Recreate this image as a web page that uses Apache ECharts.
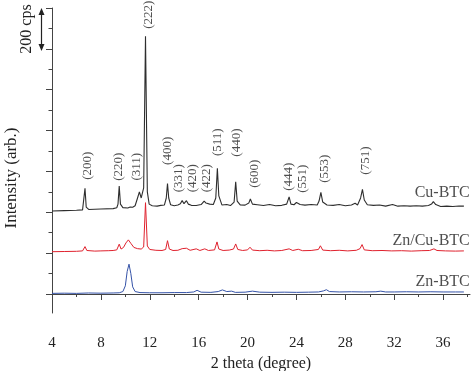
<!DOCTYPE html>
<html>
<head>
<meta charset="utf-8">
<script src="https://cdn.jsdelivr.net/npm/echarts@6/dist/echarts.min.js"></script>
<style>
html,body{margin:0;padding:0;background:#fff;}
#c{width:474px;height:371px;}
</style>
</head>
<body>
<div id="c"></div>
<script>
// x tick labels (2 theta, degree)
var xMajorTicks = [4, 8, 12, 16, 20, 24, 28, 32, 36];
var xMinorTicks = [6, 10, 14, 18, 22, 26, 30, 34, 38];
// y ticks (cps, offset scale)
var yMajorTicks = [0, 200, 400, 600, 800, 1000, 1200, 1400];
var yMinorTicks = [100, 300, 500, 700, 900, 1100, 1300];

// Cu-BTC pattern [2theta, counts (offset)]
var cuBTC = [
[4,406],[5,408],[6,410],[6.5,412],[6.6,420],[6.7,517],[6.8,425],[7.0,414],[8,416],[9,418],
[9.3,422],[9.4,440],[9.5,528],[9.6,440],[9.8,423],[10.2,421],[10.4,426],[10.5,428],[10.6,425],[10.8,432],
[11.0,470],[11.15,500],[11.3,470],[11.5,520],[11.65,1262],[11.8,500],[11.95,440],[12.2,432],[12.6,430],[12.9,434],
[13.2,436],[13.35,470],[13.45,541],[13.55,470],[13.7,437],[14.0,432],[14.3,436],[14.5,442],[14.65,457],[14.8,442],
[15.0,457],[15.15,440],[15.4,434],[15.8,433],[16.2,438],[16.45,455],[16.6,445],[16.9,440],[17.2,438],[17.4,470],
[17.53,615],[17.65,480],[17.9,436],[18.3,438],[18.6,433],[18.9,450],[19.03,549],[19.15,455],[19.4,436],[19.8,435],
[20.1,445],[20.23,465],[20.4,440],[20.8,437],[21.3,433],[21.8,438],[22.3,432],[22.8,434],[23.2,440],[23.4,475],
[23.55,440],[23.8,437],[24.0,448],[24.13,455],[24.3,438],[24.7,435],[25.2,438],[25.7,436],[25.85,455],[26.0,497],
[26.15,450],[26.5,436],[27.0,434],[27.5,438],[28.0,432],[28.5,436],[28.8,444],[29.0,436],[29.25,470],[29.4,512],
[29.55,460],[29.8,437],[30.3,434],[30.8,436],[31.3,430],[31.86,438],[32.3,430],[32.8,432],[33.3,430],[33.8,432],
[34.3,430],[34.8,433],[35.05,440],[35.2,452],[35.4,438],[35.8,428],[36.3,430],[36.8,428],[37.3,431],[37.7,430]
];

// Zn/Cu-BTC pattern
var znCuBTC = [
[4,207],[5,208],[6,209],[6.5,211],[6.7,232],[6.85,213],[7.5,210],[8.0,211],[8.6,212],[9.0,213],
[9.3,216],[9.5,244],[9.65,220],[9.85,228],[10.05,250],[10.25,265],[10.45,248],[10.7,228],[11.0,222],[11.3,220],
[11.5,230],[11.65,447],[11.8,235],[12.0,218],[12.5,214],[13.0,213],[13.3,218],[13.45,261],[13.6,220],[13.9,213],
[14.3,214],[14.65,222],[15.0,224],[15.3,214],[15.8,221],[16.1,213],[16.5,221],[16.8,213],[17.3,216],[17.5,255],
[17.65,220],[18.0,213],[18.5,215],[18.85,220],[19.03,245],[19.2,218],[19.6,213],[20.0,216],[20.2,229],[20.4,215],
[21.0,212],[21.6,214],[22.2,211],[22.8,213],[23.4,221],[23.7,213],[24.15,219],[24.5,212],[25.2,213],[25.8,218],
[25.96,236],[26.15,215],[26.8,212],[27.5,214],[28.2,211],[28.9,214],[29.2,222],[29.37,242],[29.55,216],[30.2,212],
[31.0,213],[31.8,211],[32.6,212],[33.4,210],[34.2,212],[34.9,213],[35.25,221],[35.5,213],[36.2,211],[37.0,210],[37.7,211]
];

// Zn-BTC pattern
var znBTC = [
[4,3],[5,4],[6,3],[7,5],[8,4],[9,5],[9.5,6],[9.8,12],[10.0,40],[10.15,110],
[10.3,146],[10.45,100],[10.6,35],[10.8,12],[11.2,7],[12,6],[13,6],[14,7],[15,7],[15.6,10],
[15.87,18],[16.2,9],[17.0,8],[17.6,12],[17.94,20],[18.3,12],[18.7,14],[19.0,8],[19.8,9],[20.4,14],
[21.0,9],[22.0,8],[23.0,9],[24.0,8],[25.0,9],[25.8,10],[26.2,15],[26.45,21],[26.7,12],[27.5,10],
[28.5,11],[29.5,10],[30.5,11],[30.9,14],[31.3,10],[32,10],[33,11],[34,10],[35,11],[36,10],[37,10],[37.7,10]
];

// Miller index labels [2theta, label height, text]
var peakLabels = [
[6.93,628,'(200)'],[9.48,623,'(220)'],[10.9,623,'(311)'],[11.91,1367,'(222)'],[13.49,701,'(400)'],
[14.39,567,'(331)'],[15.49,567,'(420)'],[16.63,567,'(422)'],[17.58,743,'(511)'],[19.11,741,'(440)'],
[20.59,589,'(600)'],[23.39,574,'(444)'],[24.54,564,'(551)'],[26.32,613,'(553)'],[29.67,653,'(751)']
];

// Sample names [2theta (right end), height, text]
var sampleNames = [
[38.18,494,'Cu-BTC'],[38.18,261,'Zn/Cu-BTC'],[38.18,62,'Zn-BTC']
];

var FONT = '"Liberation Serif", "Times New Roman", serif';
var TXT = '#222';
var AX = '#444';

var chart = echarts.init(document.getElementById('c'), null, {renderer:'canvas'});
var xCommon = {type:'value', min:4, max:38.2, position:'bottom', splitLine:{show:false}};
var yCommon = {type:'value', min:-93, max:1400, position:'left', splitLine:{show:false}};

chart.setOption({
  animation:false,
  backgroundColor:'#fff',
  grid:{left:52, top:8, width:418, height:305, containLabel:false, outerBoundsMode:'none'},
  xAxis:[
    Object.assign({}, xCommon, {
      name:'2 theta (degree)', nameLocation:'middle', nameGap:39,
      nameTextStyle:{fontFamily:FONT, fontSize:16, color:TXT},
      axisLine:{show:true, lineStyle:{color:AX, width:1}},
      axisTick:{show:true, length:6, customValues:xMajorTicks, lineStyle:{color:AX}},
      axisLabel:{show:true, customValues:xMajorTicks, margin:23, fontFamily:FONT, fontSize:15, color:TXT}
    }),
    Object.assign({}, xCommon, {
      axisLine:{show:false},
      axisTick:{show:true, length:3, customValues:xMinorTicks, lineStyle:{color:AX}},
      axisLabel:{show:false}
    })
  ],
  yAxis:[
    Object.assign({}, yCommon, {
      axisLine:{show:true, lineStyle:{color:AX, width:1}},
      axisTick:{show:true, length:6, customValues:yMajorTicks, lineStyle:{color:AX}},
      axisLabel:{show:false}
    }),
    Object.assign({}, yCommon, {
      axisLine:{show:false},
      axisTick:{show:true, length:3.5, customValues:yMinorTicks, lineStyle:{color:AX}},
      axisLabel:{show:false}
    })
  ],
  graphic:[
    {type:'text', x:12, y:178, rotation:Math.PI/2,
     style:{text:'Intensity (arb.)', font:'17px ' + FONT, fill:TXT, align:'center', verticalAlign:'middle'}},
    {type:'text', x:27, y:29, rotation:Math.PI/2,
     style:{text:'200 cps', font:'16px ' + FONT, fill:TXT, align:'center', verticalAlign:'middle'}},
    {type:'line', shape:{x1:41.5, y1:12, x2:41.5, y2:47}, style:{stroke:'#222', lineWidth:1.2}},
    {type:'polygon', shape:{points:[[41.5,8],[38.5,15],[44.5,15]]}, style:{fill:'#222'}},
    {type:'polygon', shape:{points:[[41.5,51],[38.5,44],[44.5,44]]}, style:{fill:'#222'}}
  ],
  series:[
    {name:'Cu-BTC', type:'line', data:cuBTC, showSymbol:false, symbol:'none', smooth:false,
     lineStyle:{color:'#2e2e2e', width:1.1}, z:2},
    {name:'Zn/Cu-BTC', type:'line', data:znCuBTC, showSymbol:false, symbol:'none',
     lineStyle:{color:'#e0222e', width:1}, z:3},
    {name:'Zn-BTC', type:'line', data:znBTC, showSymbol:false, symbol:'none',
     lineStyle:{color:'#3553a8', width:1}, z:3},
    {name:'peaks', type:'scatter', data:peakLabels, symbolSize:0, silent:true, z:5,
     label:{show:true, position:'inside', rotate:90, align:'center', verticalAlign:'middle',
            formatter:function(p){return p.data[2];}, fontFamily:FONT, fontSize:13, color:TXT}},
    {name:'samples', type:'scatter', data:sampleNames, symbolSize:0, silent:true, z:5,
     label:{show:true, position:'inside', align:'right', verticalAlign:'middle',
            formatter:function(p){return p.data[2];}, fontFamily:FONT, fontSize:16, color:TXT}}
  ]
});
</script>
</body>
</html>
